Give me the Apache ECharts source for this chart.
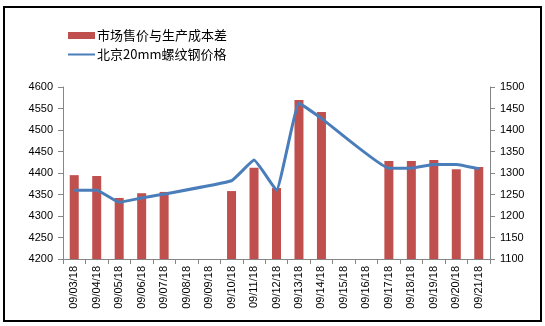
<!DOCTYPE html>
<html>
<head>
<meta charset="utf-8">
<script src="https://cdn.jsdelivr.net/npm/echarts@6/dist/echarts.min.js"></script>
<style>html,body{margin:0;padding:0;background:#fff}#c{width:545px;height:326px}</style>
</head>
<body>
<div id="c"></div>
<script>
const categories = ['09/03/18','09/04/18','09/05/18','09/06/18','09/07/18','09/08/18','09/09/18','09/10/18','09/11/18','09/12/18','09/13/18','09/14/18','09/15/18','09/16/18','09/17/18','09/18/18','09/19/18','09/20/18','09/21/18'];
const spreadValues = [1295,1293,1242,1253,1256,null,null,1258,1312,1265,1470,1442,null,null,1328,1328,1330,1309,1314];
const priceValues = [4360,4360,4332,4342,4351,null,null,4382,4430,4360,4562,4527,null,null,4411,4411,4420,4420,4410];
const leftTicks = {min:4200, max:4600, interval:50};
const rightTicks = {min:1100, max:1500, interval:50};
const names = ['市场售价与生产成本差','北京20mm螺纹钢价格'];

const chart = echarts.init(document.getElementById('c'), null, {renderer:'canvas'});
const axisColor = '#868686';
const font = '"Liberation Sans", Arial, sans-serif';
const plain = v => String(v);
chart.setOption({
  animation:false,
  graphic:[{type:'rect', shape:{x:4, y:7, width:537, height:314}, style:{fill:'none', stroke:'#000', lineWidth:2}}],
  legend:{
    orient:'vertical', left:62, top:24, itemWidth:27, itemHeight:7, itemGap:6,
    textStyle:{fontFamily:'"Noto Sans CJK SC", sans-serif', fontSize:13, color:'#000', padding:[0,0,0,-3]},
    data:[{name:names[0], icon:'rect'},{name:names[1], itemStyle:{opacity:0}}]
  },
  grid:{left:63, right:55, top:87, bottom:67, containLabel:false},
  xAxis:{
    type:'category', data:categories, boundaryGap:true,
    axisLine:{lineStyle:{color:axisColor}},
    axisTick:{show:true, alignWithLabel:false, length:5, lineStyle:{color:axisColor}},
    axisLabel:{rotate:90, fontSize:11, color:'#000', fontFamily:font, margin:7, interval:0}
  },
  yAxis:[
    {type:'value', min:leftTicks.min, max:leftTicks.max, interval:leftTicks.interval,
     axisLine:{show:true, lineStyle:{color:axisColor}}, axisTick:{show:true, length:5, lineStyle:{color:axisColor}},
     splitLine:{show:false}, axisLabel:{fontSize:11, color:'#000', fontFamily:font, margin:10, formatter:plain}},
    {type:'value', min:rightTicks.min, max:rightTicks.max, interval:rightTicks.interval, position:'right',
     axisLine:{show:true, lineStyle:{color:axisColor}}, axisTick:{show:true, length:5, lineStyle:{color:axisColor}},
     splitLine:{show:false}, axisLabel:{fontSize:11, color:'#000', fontFamily:font, margin:10, formatter:plain}}
  ],
  series:[
    {name:names[0], type:'bar', yAxisIndex:1, data:spreadValues, barWidth:9, itemStyle:{color:'#C0504D'}},
    {name:names[1], type:'line', yAxisIndex:0, data:priceValues, connectNulls:true, symbol:'none', smooth:0.1,
     lineStyle:{color:'#4A7EBB', width:3}, itemStyle:{color:'#4A7EBB'}}
  ]
});
</script>
</body>
</html>
